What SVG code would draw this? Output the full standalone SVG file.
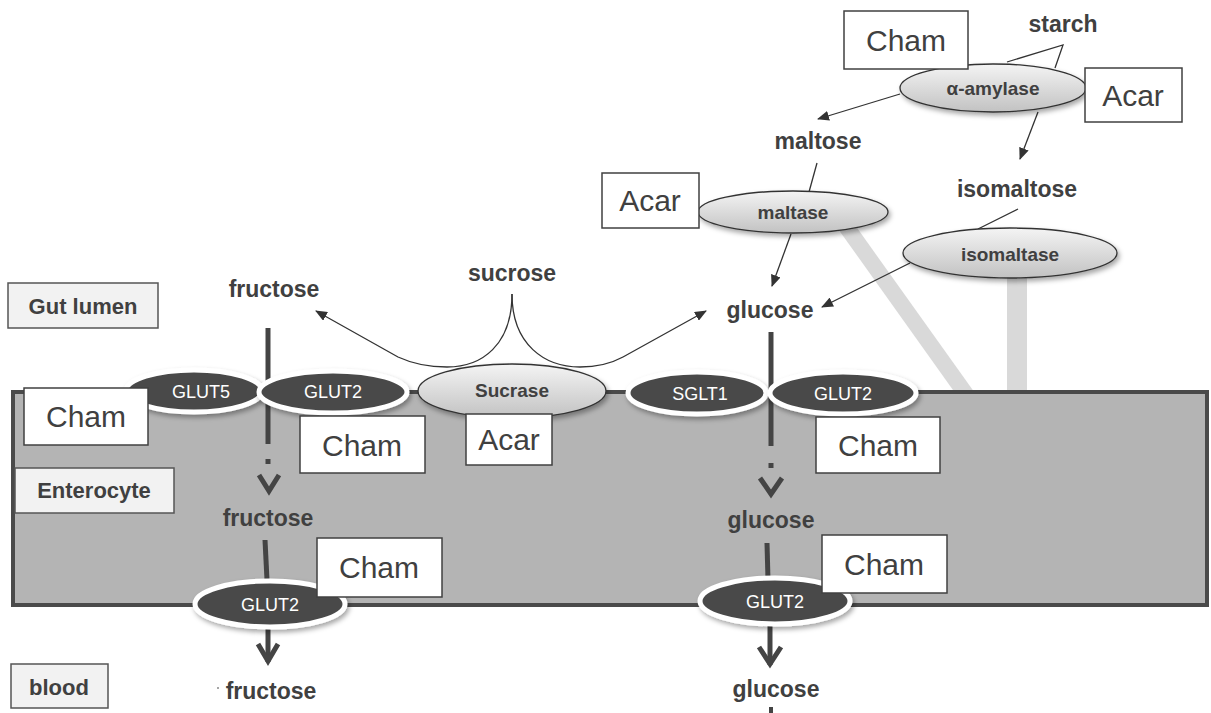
<svg xmlns="http://www.w3.org/2000/svg" width="1211" height="713" viewBox="0 0 1211 713">
<style>
.lbl{font-family:"Liberation Sans",Arial,sans-serif;font-weight:bold;font-size:23px;fill:#404040;text-anchor:middle}
.blbl{font-family:"Liberation Sans",Arial,sans-serif;font-weight:bold;font-size:22px;fill:#404040;text-anchor:middle}
.inh{font-family:"Liberation Sans",Arial,sans-serif;font-size:30px;fill:#404040;text-anchor:middle}
.enz{font-family:"Liberation Sans",Arial,sans-serif;font-weight:bold;font-size:19px;fill:#404040;text-anchor:middle}
.tr{font-family:"Liberation Sans",Arial,sans-serif;font-size:18px;fill:#ffffff;text-anchor:middle}
.ibox{fill:#ffffff;stroke:#404040;stroke-width:1.5}
.sbox{fill:#f2f2f2;stroke:#555555;stroke-width:1.5}
.enzE{fill:url(#g);stroke:#333333;stroke-width:1.3;filter:url(#sh)}
.trE{fill:#4a4a4a;stroke:#ffffff;stroke-width:5;filter:url(#sh)}
.thin{fill:none;stroke:#333333;stroke-width:1.3}
.thick{fill:none;stroke:#444444;stroke-width:5}
.bar{stroke:#d9d9d9;fill:none}
</style>
<defs>
<linearGradient id="g" x1="0" y1="0" x2="0" y2="1">
<stop offset="0" stop-color="#f4f4f4"/>
<stop offset="1" stop-color="#c2c2c2"/>
</linearGradient>
<filter id="sh" x="-20%" y="-30%" width="140%" height="170%">
<feDropShadow dx="2" dy="3" stdDeviation="2.5" flood-color="#000" flood-opacity="0.35"/>
</filter>
<marker id="ah" viewBox="0 0 12 10" refX="11" refY="5" markerWidth="12" markerHeight="10" markerUnits="userSpaceOnUse" orient="auto">
<path d="M0,0 L12,5 L0,10 z" fill="#333333"/>
</marker>
</defs>
<rect width="1211" height="713" fill="#ffffff"/>
<g id="bars">
<line class="bar" x1="843" y1="222" x2="970" y2="400" stroke-width="16"/>
<line class="bar" x1="1017" y1="265" x2="1017" y2="400" stroke-width="20"/>
</g>
<g id="enterocyte">
<rect x="13" y="392" width="1194" height="213" fill="#b4b4b4" stroke="#4a4a4a" stroke-width="4"/>
</g>
<g id="connectors">
<path class="thin" d="M1007,62 L1063,45 L1055,68"/>
<path class="thin" d="M900,94 L818,119" marker-end="url(#ah)"/>
<path class="thin" d="M1038,112 L1020,159" marker-end="url(#ah)"/>
<path class="thin" d="M817,163 L809,192"/>
<path class="thin" d="M791,234 L772,286" marker-end="url(#ah)"/>
<path class="thin" d="M1018,209 L978,229"/>
<path class="thin" d="M910,263 L822,307" marker-end="url(#ah)"/>
<path class="thin" d="M512,294 C512,345 482,367 447,367 C427,367 411,363 398,357 L316,311" marker-end="url(#ah)"/>
<path class="thin" d="M512,294 C512,345 545,367 580,367 C600,367 612,363 623,357 L706,311" marker-end="url(#ah)"/>
<path class="thick" d="M268,328 V444"/>
<rect x="265.5" y="459" width="5" height="5" fill="#444444"/>
<path class="thick" d="M259,475 L269,491 L279,475"/>
<path class="thick" d="M265,540 L267,580"/>
<path class="thick" d="M268,628 V662"/>
<path class="thick" d="M258,644 L268,661 L278,644"/>
<path class="thick" d="M771,332 V446"/>
<rect x="768.5" y="463" width="5" height="5" fill="#444444"/>
<path class="thick" d="M760,478 L771,494 L782,478"/>
<path class="thick" d="M767,543 L768,580"/>
<path class="thick" d="M770,626 V665"/>
<path class="thick" d="M759,647 L770,664 L781,647"/>
<path d="M771,707 V713" stroke="#444444" stroke-width="4"/>
<circle cx="218" cy="688" r="1" fill="#888888"/>
</g>
<g id="amylase"><ellipse class="enzE" cx="993" cy="88" rx="93" ry="24"/><text class="enz" x="993" y="95">α-amylase</text></g>
<g id="maltase"><ellipse class="enzE" cx="793" cy="212" rx="95" ry="21"/><text class="enz" x="793" y="219">maltase</text></g>
<g id="isomaltase"><ellipse class="enzE" cx="1010" cy="253" rx="107" ry="25"/><text class="enz" x="1010" y="261">isomaltase</text></g>
<g id="sucrase"><ellipse class="enzE" cx="512" cy="391" rx="94" ry="27"/><text class="enz" x="512" y="397">Sucrase</text></g>
<g id="glut5"><ellipse class="trE" cx="194" cy="391" rx="68" ry="21"/><text class="tr" x="201" y="398">GLUT5</text></g>
<g id="glut2a"><ellipse class="trE" cx="333" cy="392" rx="74" ry="21"/><text class="tr" x="333" y="398">GLUT2</text></g>
<g id="sglt1"><ellipse class="trE" cx="697" cy="393" rx="69" ry="21"/><text class="tr" x="700" y="400">SGLT1</text></g>
<g id="glut2b"><ellipse class="trE" cx="843" cy="393" rx="73" ry="21"/><text class="tr" x="843" y="400">GLUT2</text></g>
<g id="glut2c"><ellipse class="trE" cx="270" cy="604" rx="75" ry="23"/><text class="tr" x="270" y="611">GLUT2</text></g>
<g id="glut2d"><ellipse class="trE" cx="775" cy="601" rx="75" ry="23"/><text class="tr" x="775" y="608">GLUT2</text></g>
<g id="starch"><text class="lbl" x="1063" y="32">starch</text></g>
<g id="maltose"><text class="lbl" x="818" y="149">maltose</text></g>
<g id="isomaltose"><text class="lbl" x="1017" y="197">isomaltose</text></g>
<g id="sucrose"><text class="lbl" x="512" y="281">sucrose</text></g>
<g id="fructose1"><text class="lbl" x="274" y="297">fructose</text></g>
<g id="glucose1"><text class="lbl" x="770" y="318">glucose</text></g>
<g id="fructose2"><text class="lbl" x="268" y="526">fructose</text></g>
<g id="glucose2"><text class="lbl" x="771" y="528">glucose</text></g>
<g id="fructose3"><text class="lbl" x="271" y="699">fructose</text></g>
<g id="glucose3"><text class="lbl" x="776" y="697">glucose</text></g>
<g id="gutlumen"><rect class="sbox" x="8" y="283" width="150" height="45"/><text class="blbl" x="83" y="314">Gut lumen</text></g>
<g id="enterocyteLabel"><rect class="sbox" x="15" y="468" width="159" height="45"/><text class="blbl" x="94" y="498">Enterocyte</text></g>
<g id="blood"><rect class="sbox" x="11" y="664" width="97" height="44"/><text class="blbl" x="59" y="695">blood</text></g>
<g id="cham1"><rect class="ibox" x="844" y="11" width="124" height="58"/><text class="inh" x="906" y="51">Cham</text></g>
<g id="acar1"><rect class="ibox" x="1085" y="68" width="97" height="54"/><text class="inh" x="1133" y="106">Acar</text></g>
<g id="acar2"><rect class="ibox" x="602" y="173" width="97" height="55"/><text class="inh" x="650" y="211">Acar</text></g>
<g id="cham2"><rect class="ibox" x="24" y="388" width="124" height="57"/><text class="inh" x="86" y="427">Cham</text></g>
<g id="cham3"><rect class="ibox" x="300" y="416" width="125" height="57"/><text class="inh" x="362" y="456">Cham</text></g>
<g id="acar3"><rect class="ibox" x="466" y="414" width="86" height="51"/><text class="inh" x="509" y="450">Acar</text></g>
<g id="cham4"><rect class="ibox" x="816" y="417" width="124" height="56"/><text class="inh" x="878" y="456">Cham</text></g>
<g id="cham5"><rect class="ibox" x="317" y="538" width="125" height="59"/><text class="inh" x="379" y="578">Cham</text></g>
<g id="cham6"><rect class="ibox" x="822" y="535" width="125" height="58"/><text class="inh" x="884" y="575">Cham</text></g>
</svg>
